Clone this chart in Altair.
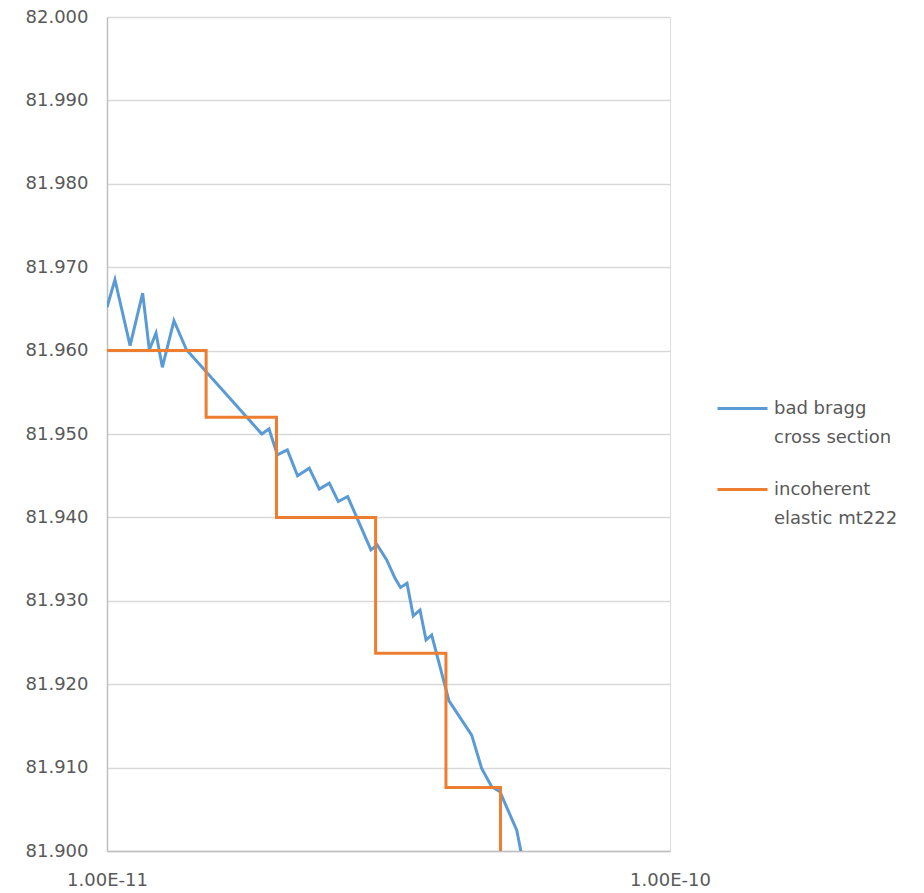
import altair as alt
import pandas as pd

series_names = ["bad bragg|cross section", "incoherent|elastic mt222"]
series_colors = ["#5b9bd5", "#ed7d31"]

bragg_x = [1.000e-11, 1.033e-11, 1.099e-11, 1.157e-11, 1.189e-11, 1.222e-11, 1.254e-11,
           1.315e-11, 1.384e-11, 1.883e-11, 1.940e-11, 2.007e-11, 2.091e-11, 2.180e-11,
           2.287e-11, 2.383e-11, 2.482e-11, 2.575e-11, 2.676e-11, 2.943e-11, 3.020e-11,
           3.139e-11, 3.248e-11, 3.322e-11, 3.411e-11, 3.499e-11, 3.597e-11, 3.687e-11,
           3.773e-11, 4.050e-11, 4.444e-11, 4.629e-11, 4.823e-11, 4.989e-11, 5.343e-11,
           5.437e-11]
bragg_y = [81.9652, 81.9685, 81.9606, 81.9669, 81.9601, 81.9621, 81.9580,
           81.9636, 81.9601, 81.9500, 81.9506, 81.9475, 81.9481, 81.9450,
           81.9459, 81.9434, 81.9441, 81.9419, 81.9425, 81.9361, 81.9367,
           81.9349, 81.9327, 81.9316, 81.9321, 81.9282, 81.9289, 81.9253,
           81.9259, 81.9180, 81.9139, 81.9099, 81.9077, 81.9071, 81.9025,
           81.8999]

inc_x = [1.0e-11, 1.5e-11, 2.0e-11, 3.0e-11, 4.0e-11, 5.0e-11]
inc_y = [81.960, 81.952, 81.940, 81.9237, 81.9076, 81.890]

y_ticks = [81.90, 81.91, 81.92, 81.93, 81.94, 81.95, 81.96, 81.97, 81.98, 81.99, 82.00]
x_ticks = [1e-11, 1e-10]
x_domain = [1e-11, 1e-10]
y_domain = [81.90, 82.00]

df_b = pd.DataFrame({"x": bragg_x, "y": bragg_y, "series": series_names[0],
                     "i": list(range(len(bragg_x)))})
df_i = pd.DataFrame({"x": inc_x, "y": inc_y, "series": series_names[1],
                     "i": list(range(len(inc_x)))})

FONT = "DejaVu Sans"
TXT = "#595959"

x_enc = alt.X("x:Q",
              scale=alt.Scale(type="log", domain=x_domain, nice=False),
              axis=alt.Axis(values=x_ticks, grid=False, ticks=False, title=None,
                            labelFlush=False, labelOverlap=False, labelPadding=20,
                            labelFont=FONT, labelFontSize=18, labelColor=TXT,
                            domainColor="#bfbfbf", domainWidth=1.5,
                            labelExpr="format(datum.value / pow(10, round(log(datum.value) / LN10)), '.2f') + 'E' + round(log(datum.value) / LN10)"))
y_enc = alt.Y("y:Q",
              scale=alt.Scale(domain=y_domain, zero=False, nice=False),
              axis=alt.Axis(values=y_ticks, format=".3f", grid=True, gridColor="#d9d9d9",
                            gridWidth=1.5, ticks=False, title=None, labelOverlap=False,
                            labelPadding=19, labelFont=FONT, labelFontSize=18,
                            labelColor=TXT, domainColor="#bfbfbf", domainWidth=1.5))
color_enc = alt.Color("series:N",
                      scale=alt.Scale(domain=series_names, range=series_colors),
                      legend=alt.Legend(title=None, orient="none", legendX=609, legendY=365,
                                        symbolType="stroke", symbolSize=2500,
                                        symbolStrokeWidth=3, labelFont=FONT,
                                        labelFontSize=18, labelColor=TXT, labelOffset=5,
                                        labelLimit=300, rowPadding=16,
                                        labelExpr="split(datum.label, '|')"))

blue = alt.Chart(df_b).mark_line(strokeWidth=3, clip=True).encode(
    x=x_enc, y=y_enc, color=color_enc, order="i:Q")
orange = alt.Chart(df_i).mark_line(strokeWidth=3, clip=True, interpolate="step-after").encode(
    x=x_enc, y=y_enc, color=color_enc, order="i:Q")

chart = alt.layer(blue, orange).properties(
    width=563, height=834,
    autosize=alt.AutoSizeParams(type="none"),
    padding={"left": 107, "top": 17, "right": 254, "bottom": 42},
).configure_view(stroke="#d9d9d9", strokeWidth=1.5).configure(
    background="white",
    style={"guide-label": {"lineHeight": 29}},
)

chart.save("out.html", embed_options={"renderer": "svg", "actions": False})
